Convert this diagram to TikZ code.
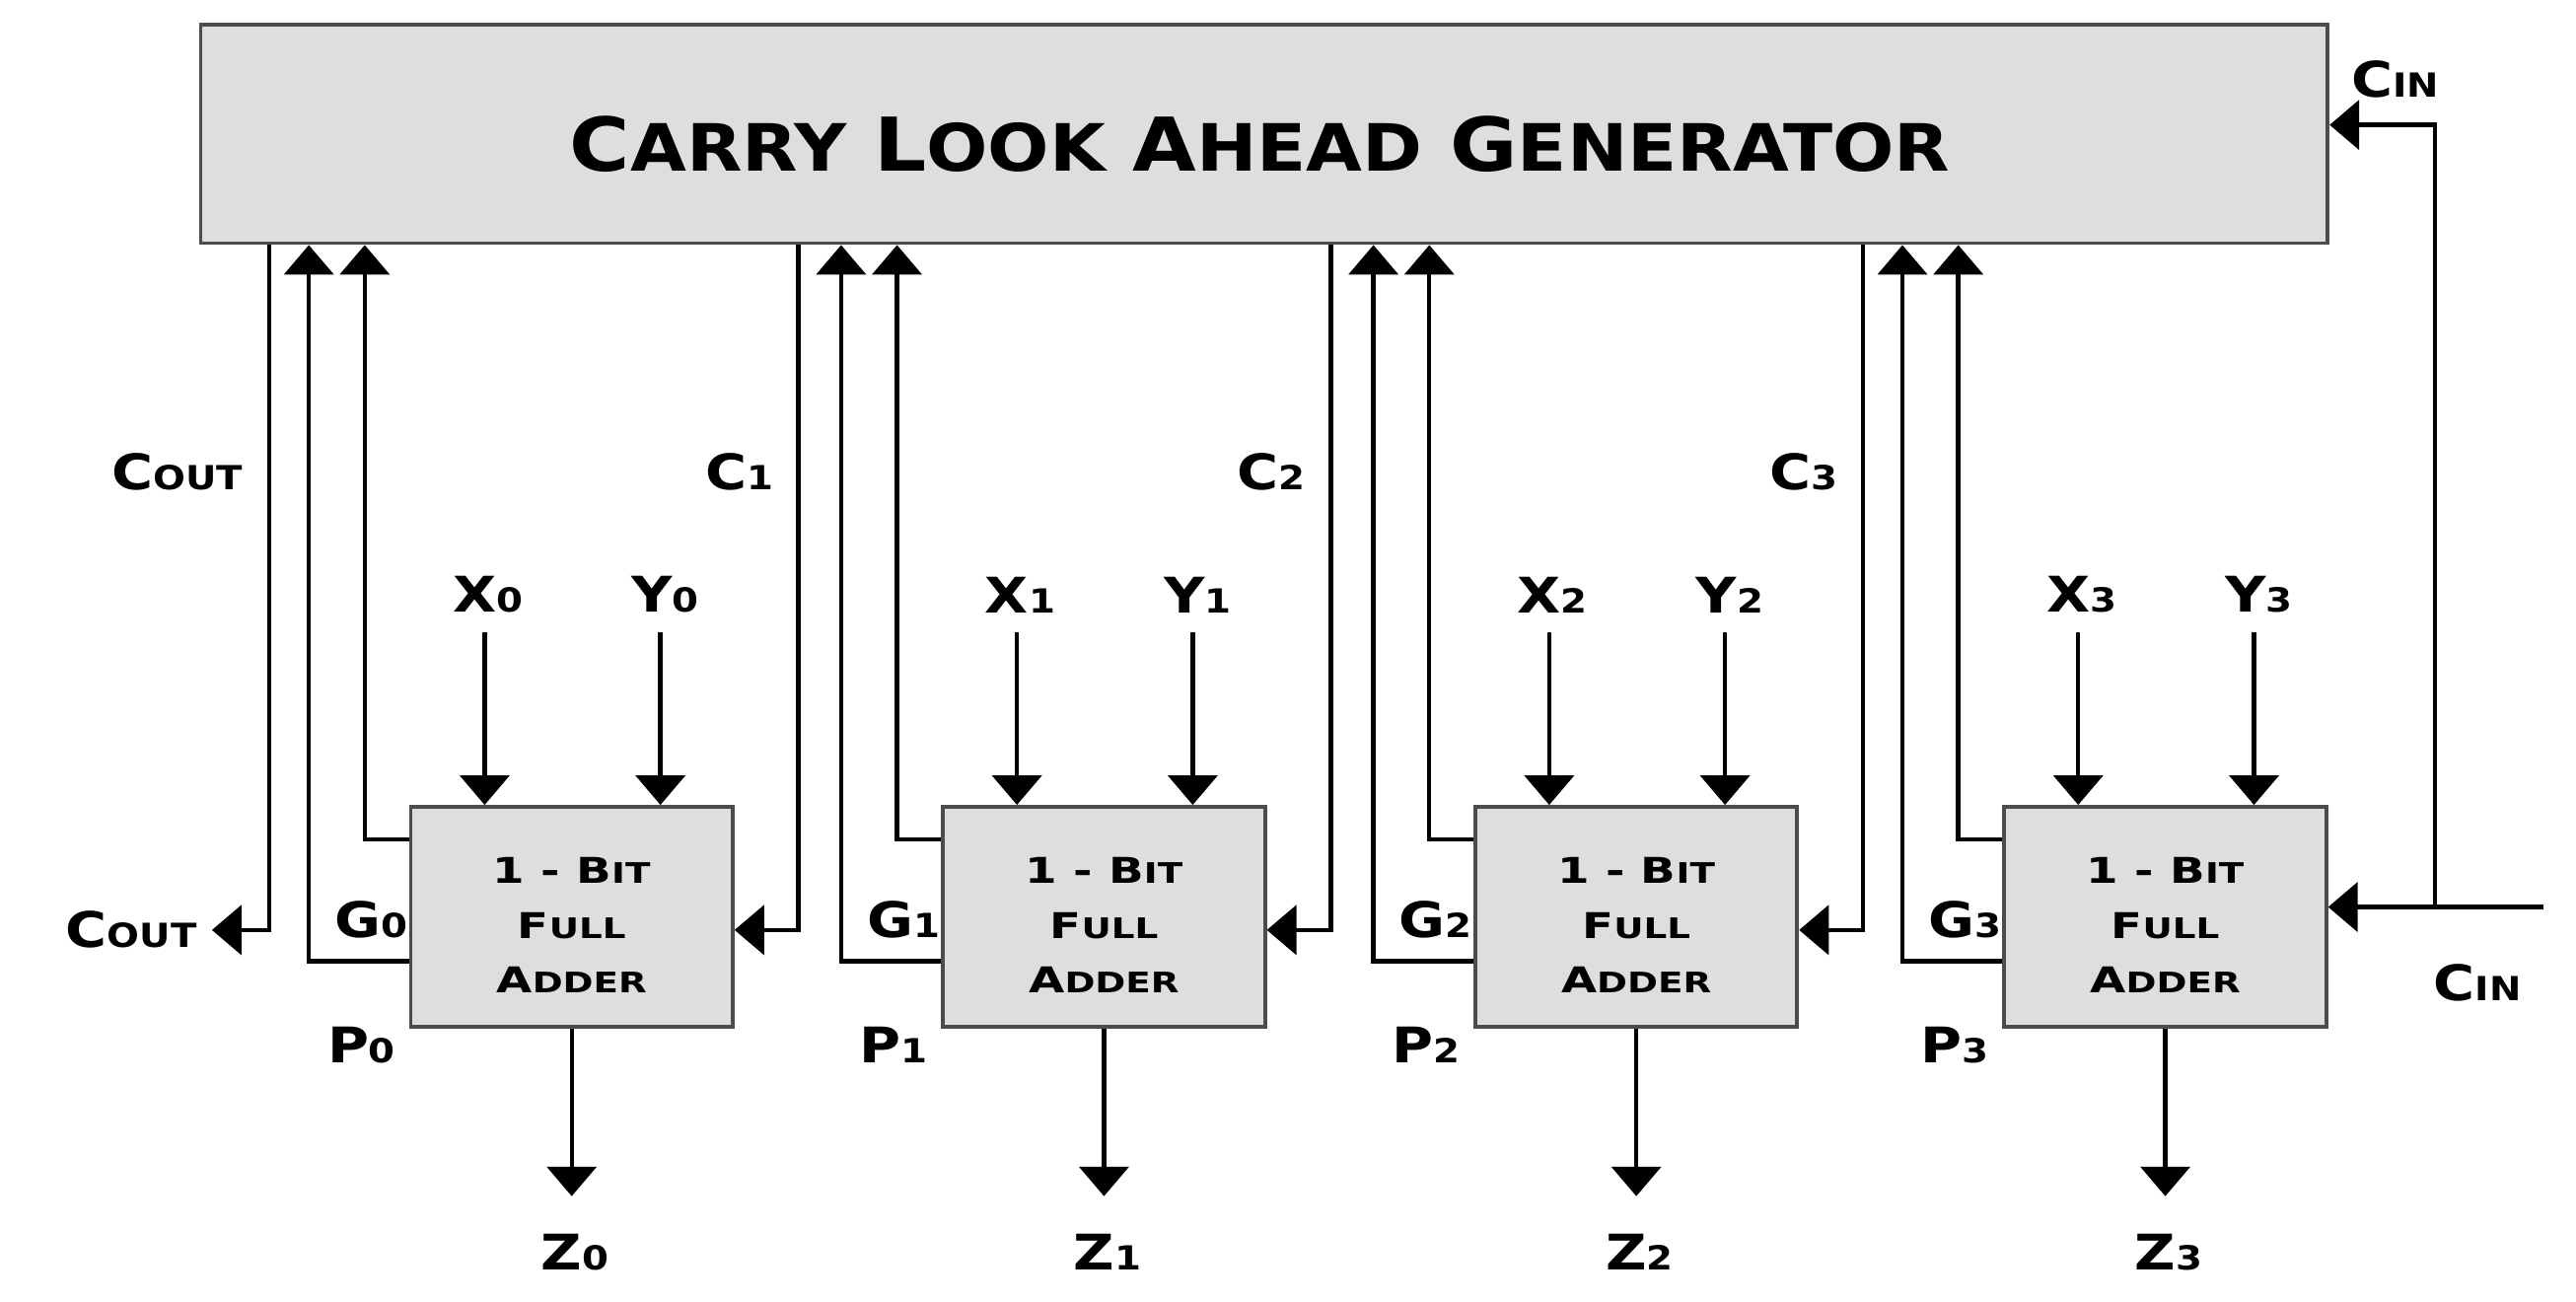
\documentclass[tikz,border=0pt]{standalone}
\usepackage{fontspec}
\usepackage{graphicx}
\setmainfont{DejaVu Sans}
\usetikzlibrary{arrows.meta}
\newcommand\twosz[4]{{\fontsize{#1}{#1}\selectfont\bfseries #3}{\fontsize{#2}{#2}\selectfont\bfseries #4}}
\newcommand\lab[2]{\scalebox{1.15}[1]{\twosz{17pt}{11.5pt}{#1}{#2}}}
\newcommand\ttl[2]{\twosz{25.7pt}{22.6pt}{#1}{#2}}
\newcommand\fat[2]{\scalebox{1.3}[1]{\twosz{12.3pt}{9.8pt}{#1}{#2}}}
\begin{document}
\begin{tikzpicture}[x=0.02cm,y=-0.02cm,
  wire/.style={line width=1.5pt,black},
  arr/.style={wire,-{Triangle[width=0.6cm,length=0.36cm]}},
  blk/.style={draw=black!70,line width=1.3pt,fill=black!13},
  fa/.style={blk,minimum width=3.92cm,minimum height=2.68cm,align=center,
    font=\fontsize{12.3pt}{19pt}\selectfont},
  lbl/.style={inner sep=0pt}]
\useasboundingbox (0,0) rectangle (1568,792);
\fill[white] (0,0) rectangle (1568,792);
\node[blk,minimum width=25.9cm,minimum height=2.66cm] (cla) at (769.5,81.5) {};
\node[lbl] (title) at (767,88) {\scalebox{1.11}[1]{\ttl{C}{ARRY}\hspace{0.3cm}\ttl{L}{OOK}\hspace{0.3cm}\ttl{A}{HEAD}\hspace{0.3cm}\ttl{G}{ENERATOR}}};
\foreach \i/\dx in {0/0,1/324,2/648,3/970}{
  \node[fa] (fa\i) at ({348+\dx},558) {\rule{0pt}{14.7pt}\fat{1 - B}{IT}\\\fat{F}{ULL}\\\fat{A}{DDER}};
  \node[lbl] (x\i) at ({297+\dx},362) {\lab{X}{\i}};
  \node[lbl] (y\i) at ({405+\dx},362) {\lab{Y}{\i}};
  \node[lbl] (g\i) at ({226+\dx},560) {\lab{G}{\i}};
  \node[lbl] (p\i) at ({220+\dx},636) {\lab{P}{\i}};
  \node[lbl] (z\i) at ({350+\dx},762) {\lab{Z}{\i}};
  \coordinate (xs\i) at ({295+\dx},385);
  \coordinate (ys\i) at ({402+\dx},385);
  \coordinate (ze\i) at ({348+\dx},728);
  \coordinate (pt\i) at ({222+\dx},148);
  \coordinate (gt\i) at ({188+\dx},148);
  \draw[arr] (xs\i) -- (xs\i |- fa\i.north);
  \draw[arr] (ys\i) -- (ys\i |- fa\i.north);
  \draw[arr] (fa\i.south) -- (ze\i);
  \draw[arr] (fa\i.west |- 0,511) -| (pt\i |- cla.south);
  \draw[arr] (fa\i.west |- 0,585) -| (gt\i |- cla.south);
}
\foreach \i/\dx/\n in {0/0/1,1/324/2,2/648/3}{
  \coordinate (ct\i) at ({486+\dx},148);
  \node[lbl] (c\n) at ({450+\dx},287) {\lab{C}{\n}};
  \draw[arr] (ct\i |- cla.south) |- (fa\i.east |- 0,566);
}
% carry out
\coordinate (cot) at (164,148);
\coordinate (coe) at (129,566);
\draw[arr] (cot |- cla.south) |- (coe);
\node[lbl] (coutA) at (108,287) {\lab{C}{OUT}};
\node[lbl] (coutB) at (80,566) {\lab{C}{OUT}};
% carry in
\coordinate (cins) at (1548,552);
\coordinate (cinj) at (1482,552);
\draw[wire] (cins) -- (cinj);
\draw[arr] (cinj) -- (cinj -| fa3.east);
\draw[arr] (cinj) |- (cla.east |- 0,76);
\node[lbl] (cinA) at (1458,48) {\lab{C}{IN}};
\node[lbl] (cinB) at (1508,598) {\lab{C}{IN}};
\end{tikzpicture}
\end{document}
